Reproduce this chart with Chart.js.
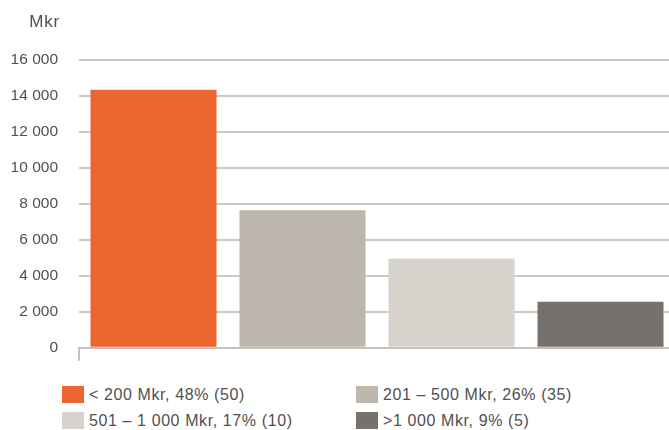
<!DOCTYPE html>
<html>
<head>
<meta charset="utf-8">
<script src="https://cdn.jsdelivr.net/npm/chart.js@4/dist/chart.umd.min.js"></script>
<style>
  html, body { margin: 0; padding: 0; background: #fff; overflow: hidden; }
  #wrap { position: relative; width: 669px; height: 430px; overflow: hidden; }
  #chart { position: absolute; left: 0; top: 0; }
  .leg { position: absolute; font-family: "Liberation Sans", Arial, sans-serif; font-size: 16px;
         letter-spacing: 0.6px; color: #505050; white-space: nowrap; line-height: 17px; }
  .leg span.sw { position: absolute; left: 0; top: 0; width: 22px; height: 17px; }
  .leg span.tx { position: absolute; left: 27px; top: 0; }
</style>
</head>
<body>
<div id="wrap">
  <canvas id="chart" width="675" height="378"></canvas>
  <div id="legend"></div>
</div>
<script>
const categories = ["< 200 Mkr, 48% (50)", "201 – 500 Mkr, 26% (35)", "501 – 1 000 Mkr, 17% (10)", ">1 000 Mkr, 9% (5)"];
const values = [14350, 7650, 4950, 2550];
const colors = ["#EB6631", "#BEB7AE", "#D6D2CC", "#77716D"];
const yTicks = [0, 2000, 4000, 6000, 8000, 10000, 12000, 14000, 16000];
const unitLabel = "Mkr";

const axisColor = "#c8c1b9";
const fmt = v => String(v).replace(/\B(?=(\d{3})+(?!\d))/g, " ");

// "Mkr" above the y tick labels
const unitPlugin = {
  id: "unit",
  afterDraw(chart) {
    const c = chart.ctx;
    c.save();
    c.font = "17px 'Liberation Sans', Arial, sans-serif";
    c.letterSpacing = "0.8px";
    c.fillStyle = "#505050";
    c.textAlign = "right";
    c.textBaseline = "alphabetic";
    c.fillText(unitLabel, 60, 27);
    c.restore();
  }
};

const ctx = document.getElementById("chart").getContext("2d");
const chart = new Chart(ctx, {
  type: "bar",
  data: {
    labels: categories,
    datasets: [{
      data: values,
      backgroundColor: colors,
      borderWidth: 0,
      barPercentage: 0.846,
      categoryPercentage: 1,
    }],
  },
  options: {
    responsive: false,
    animation: false,
    layout: { padding: { top: 60, right: 0, left: 0, bottom: 0 } },
    plugins: { legend: { display: false }, tooltip: { enabled: false } },
    scales: {
      x: {
        ticks: { display: false },
        grid: {
          drawOnChartArea: false,
          drawTicks: true,
          tickLength: 13,
          lineWidth: 2,
          color: c => (c.index === 0 ? axisColor : "transparent"),
        },
        border: { display: true, color: axisColor, width: 2 },
        afterFit: s => { s.height = 22; },
      },
      y: {
        min: 0,
        max: 16000,
        afterBuildTicks: s => { s.ticks = yTicks.map(v => ({ value: v })); },
        ticks: {
          padding: 21,
          color: "#505050",
          font: { family: "'Liberation Sans', Arial, sans-serif", size: 15.5 },
          callback: v => fmt(v),
        },
        grid: { color: "#cdc8c2", lineWidth: 2, drawTicks: false },
        border: { display: false },
        afterFit: s => { s.width = 79; },
      },
    },
  },
  plugins: [unitPlugin],
});

// legend, two columns
const legend = document.getElementById("legend");
const legPos = [[62, 386], [356, 386], [62, 412], [356, 412]];
categories.forEach((name, i) => {
  const d = document.createElement("div");
  d.className = "leg";
  d.style.left = legPos[i][0] + "px";
  d.style.top = legPos[i][1] + "px";
  d.innerHTML = '<span class="sw" style="background:' + colors[i] + '"></span><span class="tx"></span>';
  d.querySelector(".tx").textContent = name;
  legend.appendChild(d);
});
</script>
</body>
</html>
